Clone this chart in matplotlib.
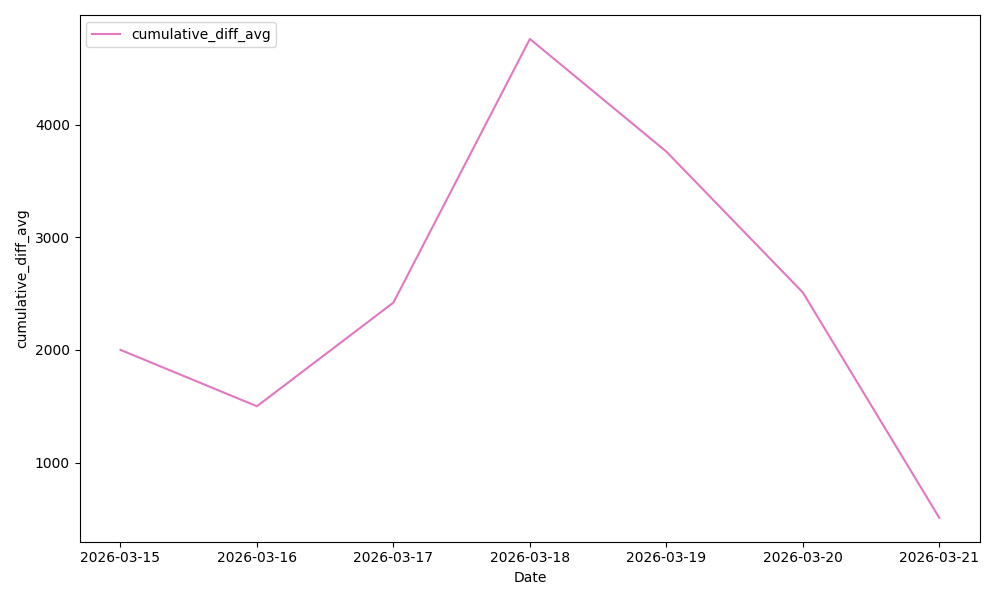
import matplotlib
matplotlib.use("Agg")
import matplotlib.pyplot as plt
import pandas as pd

dates = ["2026-03-15", "2026-03-16", "2026-03-17", "2026-03-18",
         "2026-03-19", "2026-03-20", "2026-03-21"]
cumulative_diff_avg = [2000, 1500, 2420, 4760, 3760, 2510, 510]

x = pd.to_datetime(dates)

fig, ax = plt.subplots(figsize=(10, 6), dpi=100)
ax.plot(x, cumulative_diff_avg, color="#e377c2", label="cumulative_diff_avg")
ax.set_xticks(x)
ax.set_xticklabels(dates)
ax.set_xlabel("Date")
ax.set_ylabel("cumulative_diff_avg")
ax.legend(loc="upper left")
plt.tight_layout()
plt.savefig("out.png")
